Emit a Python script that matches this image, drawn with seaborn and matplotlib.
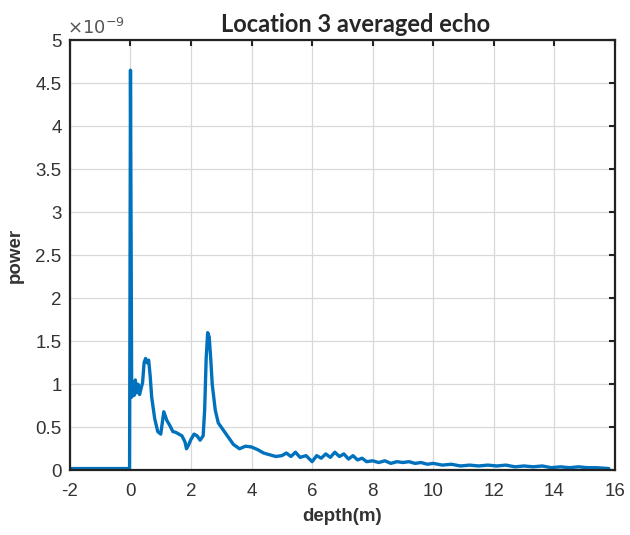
import numpy as np
import pandas as pd
import matplotlib
matplotlib.use('Agg')
import matplotlib.pyplot as plt
import seaborn as sns

# depth (m) and averaged echo power (x1e-9)
depth = [-2.0, -1.0, -0.03, 0.0, 0.04, 0.08, 0.12, 0.16, 0.2, 0.25, 0.3, 0.35, 0.4,
         0.45, 0.5, 0.55, 0.6, 0.65, 0.7, 0.8, 0.9, 1.0, 1.05, 1.1, 1.2, 1.3, 1.4,
         1.5, 1.6, 1.7, 1.8, 1.85, 1.9, 2.0, 2.1, 2.2, 2.3, 2.4, 2.45, 2.5, 2.55,
         2.6, 2.65, 2.7, 2.8, 2.9, 3.0, 3.2, 3.4, 3.6, 3.8, 4.0, 4.2, 4.4, 4.6,
         4.8, 5.0, 5.15, 5.3, 5.45, 5.6, 5.8, 6.0, 6.15, 6.3, 6.45, 6.6, 6.75,
         6.9, 7.05, 7.2, 7.35, 7.5, 7.65, 7.8, 8.0, 8.2, 8.4, 8.6, 8.8, 9.0, 9.2,
         9.4, 9.6, 9.8, 10.0, 10.3, 10.6, 10.9, 11.2, 11.5, 11.8, 12.1, 12.4,
         12.7, 13.0, 13.3, 13.6, 13.9, 14.2, 14.5, 14.8, 15.1, 15.4, 15.8]
power = [0.02, 0.02, 0.02, 4.65, 0.85, 0.95, 0.87, 1.05, 0.9, 1.0, 0.88, 0.95, 1.02,
         1.25, 1.3, 1.25, 1.28, 1.1, 0.85, 0.6, 0.45, 0.42, 0.55, 0.68, 0.58, 0.52,
         0.45, 0.44, 0.42, 0.4, 0.33, 0.25, 0.28, 0.36, 0.42, 0.4, 0.35, 0.4, 0.7,
         1.3, 1.6, 1.55, 1.3, 1.0, 0.7, 0.55, 0.5, 0.4, 0.3, 0.25, 0.28, 0.27,
         0.24, 0.2, 0.18, 0.16, 0.17, 0.2, 0.16, 0.21, 0.15, 0.17, 0.1, 0.17,
         0.14, 0.19, 0.15, 0.21, 0.16, 0.19, 0.13, 0.17, 0.12, 0.14, 0.1, 0.11,
         0.09, 0.11, 0.08, 0.1, 0.09, 0.1, 0.08, 0.09, 0.07, 0.08, 0.06, 0.07,
         0.05, 0.06, 0.05, 0.06, 0.05, 0.06, 0.04, 0.05, 0.04, 0.05, 0.03, 0.04,
         0.03, 0.04, 0.03, 0.03, 0.02]

xticks = list(range(-2, 17, 2))
yticks = [0, 0.5, 1, 1.5, 2, 2.5, 3, 3.5, 4, 4.5, 5]

df = pd.DataFrame({'depth': depth, 'power': np.array(power) * 1e-9})

sns.set_style('white')
plt.rcParams['font.family'] = ['Liberation Sans', 'DejaVu Sans']

fig = plt.figure(figsize=(6.3, 5.35), dpi=100)
ax = fig.add_axes([0.111, 0.121, 0.865, 0.804])

sns.lineplot(data=df, x='depth', y='power', ax=ax, color='#0072BD',
             linewidth=2.4, estimator=None, sort=False)

ax.set_xlim(-2, 16)
ax.set_ylim(0, 5e-9)
ax.set_xticks(xticks)
ax.set_yticks([v * 1e-9 for v in yticks])
ax.set_yticklabels([f'{v:g}' for v in yticks])
ax.set_xticklabels([str(v) for v in xticks])
ax.grid(True, color='#d8d8d8', linewidth=0.9)
ax.set_axisbelow(True)
ax.tick_params(direction='in', top=True, right=True, length=4, width=1.5,
               colors='#222222', labelsize=13.5, pad=6)
ax.tick_params(axis='x', pad=9)
for lab in ax.get_xticklabels() + ax.get_yticklabels():
    lab.set_color('#333333')
for s in ax.spines.values():
    s.set_color('#222222')
    s.set_linewidth(1.6)

ax.text(-0.005, 1.005, r'$\times10^{-9}$', transform=ax.transAxes, fontsize=13,
        color='#555555', ha='left', va='bottom')

ax.set_xlabel('depth(m)', fontsize=13.5, fontweight='bold', labelpad=6,
              color='#333333')
ax.set_ylabel('power', fontsize=13.5, fontweight='bold', labelpad=8,
              color='#333333')
ax.set_title('Location 3 averaged echo', fontsize=17, fontweight='bold',
             family=['Lato', 'DejaVu Sans'], x=0.525, pad=6)

fig.savefig('out.png', dpi=100)
